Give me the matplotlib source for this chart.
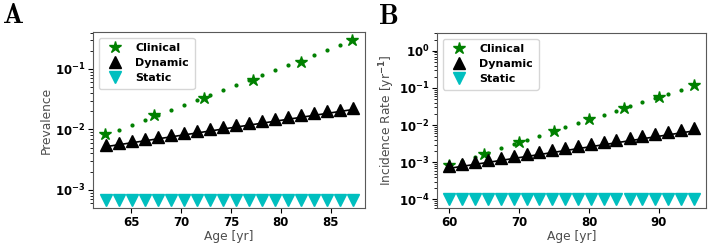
import math
import matplotlib
matplotlib.use("Agg")
import matplotlib.pyplot as plt
from matplotlib.ticker import FuncFormatter, LogLocator

plt.rcParams["font.weight"] = "bold"

# ---- panel A : prevalence ----
age_a = [62.5, 63.8, 65.1, 66.4, 67.7, 69.0, 70.3, 71.6, 72.9, 74.2,
         75.5, 76.8, 78.1, 79.4, 80.7, 82.0, 83.3, 84.6, 85.9, 87.2]
clin_dots_a = [0.0080, 0.0097, 0.0117, 0.0142, 0.0172, 0.0208, 0.0251, 0.0304, 0.0368, 0.0445,
               0.0538, 0.0651, 0.0788, 0.0953, 0.1153, 0.1396, 0.1689, 0.2043, 0.2472, 0.2991]
star_age_a = [62.4, 67.3, 72.3, 77.2, 82.0, 87.1]
star_val_a = [0.0083, 0.0171, 0.033, 0.065, 0.132, 0.30]
dyn_a = [0.0056, 0.0060, 0.0065, 0.0070, 0.0075, 0.0081, 0.0087, 0.0094, 0.0101, 0.0109,
         0.0118, 0.0127, 0.0137, 0.0147, 0.0158, 0.0171, 0.0184, 0.0198, 0.0213, 0.0230]
fit_age_a = [62.5, 87.2]
fit_val_a = [0.0052, 0.0213]
static_a = [6.8e-4] * 20

# ---- panel B : incidence ----
age_b = [60.0, 61.8, 63.7, 65.5, 67.4, 69.2, 71.1, 72.9, 74.7, 76.6,
         78.4, 80.3, 82.1, 83.9, 85.8, 87.6, 89.5, 91.3, 93.2, 95.0]
clin_dots_b = [8.3e-4, 1.08e-3, 1.40e-3, 1.82e-3, 2.36e-3, 3.06e-3, 3.97e-3, 5.15e-3, 6.69e-3, 8.68e-3,
               0.0113, 0.0146, 0.0190, 0.0246, 0.0320, 0.0415, 0.0539, 0.0700, 0.0908, 0.118]
star_age_b = [60, 65, 70, 75, 80, 85, 90, 95]
star_val_b = [8.3e-4, 1.72e-3, 3.5e-3, 7.0e-3, 0.0143, 0.029, 0.058, 0.117]
dyn_b = [7.8e-4, 8.85e-4, 1.0e-3, 1.14e-3, 1.29e-3, 1.47e-3, 1.67e-3, 1.89e-3, 2.14e-3, 2.43e-3,
         2.76e-3, 3.13e-3, 3.55e-3, 4.03e-3, 4.58e-3, 5.19e-3, 5.89e-3, 6.69e-3, 7.59e-3, 8.61e-3]
fit_age_b = [60, 95]
fit_val_b = [6.9e-4, 7.0e-3]
static_b = [1.0e-4] * 20


def log_fmt(v, pos):
    e = int(round(math.log10(v)))
    return r"$\mathbf{10^{%d}}$" % e


def panel(ax, age, dots, s_age, s_val, dyn, f_age, f_val, stat):
    ax.plot(s_age, s_val, "*", color="g", ms=9, label="Clinical", linestyle="none")
    ax.plot(age, dots, ".", color="g", ms=4)
    ax.plot(age, dyn, "^", color="k", ms=9, label="Dynamic", linestyle="none")
    ax.plot(f_age, f_val, "-", color="k", lw=1.2)
    ax.plot(age, stat, "v", color="c", ms=9, label="Static", linestyle="none")
    ax.set_yscale("log")
    ax.yaxis.set_major_locator(LogLocator(base=10))
    ax.yaxis.set_major_formatter(FuncFormatter(log_fmt))
    ax.tick_params(labelsize=8.5, pad=2, length=3.5)
    for s in ax.spines.values():
        s.set_color("0.35")
    ax.set_xlabel("Age [yr]", fontsize=8.8, color="0.3", fontweight="normal", labelpad=1)
    ax.legend(loc="upper left", prop={"weight": "bold", "size": 8},
              handletextpad=0.8, borderpad=0.5, labelspacing=0.45)


fig = plt.figure(figsize=(7.12, 2.43), dpi=100)
ax1 = fig.add_axes([0.1306, 0.144, 0.382, 0.724])
ax2 = fig.add_axes([0.6138, 0.144, 0.378, 0.72])

panel(ax1, age_a, clin_dots_a, star_age_a, star_val_a, dyn_a, fit_age_a, fit_val_a, static_a)
ax1.set_xticks([65, 70, 75, 80, 85])
ax1.set_ylabel("Prevalence", fontsize=8.8, color="0.3", fontweight="normal", labelpad=1.5)

panel(ax2, age_b, clin_dots_b, star_age_b, star_val_b, dyn_b, fit_age_b, fit_val_b, static_b)
ax2.set_xticks([60, 70, 80, 90])
ax2.set_ylim(5.9e-5, 3.0)
ax2.set_ylabel(r"Incidence Rate [yr$^{-1}$]", fontsize=8.8, color="0.3", fontweight="normal",
               labelpad=1.5)

fig.text(0.003, 0.995, r"$\mathbf{A}$", math_fontfamily="cm", fontsize=20, va="top", ha="left")
fig.text(0.531, 0.99, r"$\mathbf{B}$", math_fontfamily="cm", fontsize=20, va="top", ha="left")

fig.savefig("out.png", dpi=100)
